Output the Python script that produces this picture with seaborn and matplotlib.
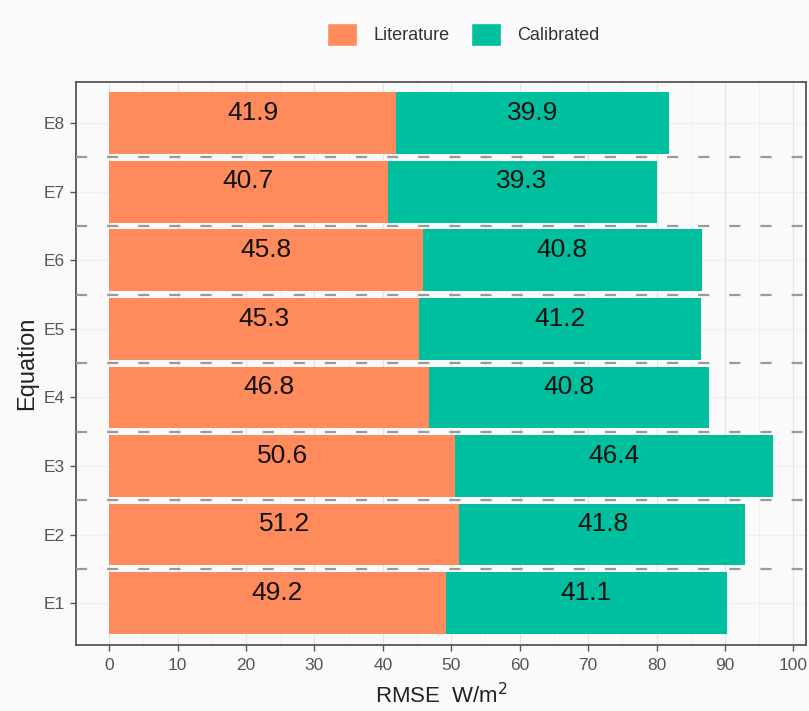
import matplotlib
matplotlib.use("Agg")
import matplotlib.pyplot as plt
from matplotlib import font_manager
from matplotlib.patches import Patch
from matplotlib.ticker import MultipleLocator
import seaborn as sns
import pandas as pd
import numpy as np

# data (top to bottom)
equations = ["E8", "E7", "E6", "E5", "E4", "E3", "E2", "E1"]
literature = [41.9, 40.7, 45.8, 45.3, 46.8, 50.6, 51.2, 49.2]
calibrated = [39.9, 39.3, 40.8, 41.2, 40.8, 46.4, 41.8, 41.1]

df = pd.DataFrame({"equation": equations,
                   "Literature": literature,
                   "Calibrated": calibrated})
df["total"] = df["Literature"] + df["Calibrated"]

col_lit = "#FF8A5B"
col_cal = "#00BF9F"
bg = "#FAFAFA"

sns.set_style("white")
plt.rcParams["font.family"] = ["Liberation Sans", "DejaVu Sans"]

# tick labels in the reference look condensed
installed = {f.name for f in font_manager.fontManager.ttflist}
if "Liberation Sans Narrow" in installed:
    tick_font, tick_size = "Liberation Sans Narrow", 14
else:
    tick_font, tick_size = "Liberation Sans", 12.5

fig = plt.figure(figsize=(8.09, 7.11), dpi=100, facecolor=bg)
ax = fig.add_axes([76 / 809, 66 / 711, 730 / 809, 563 / 711])
ax.set_facecolor(bg)

# stacked bars: total first, literature drawn over it
sns.barplot(data=df, y="equation", x="total", order=equations, color=col_cal,
            width=0.9, saturation=1, linewidth=0, ax=ax, zorder=3)
sns.barplot(data=df, y="equation", x="Literature", order=equations, color=col_lit,
            width=0.9, saturation=1, linewidth=0, ax=ax, zorder=3)

# value labels centred in each segment (sit a little above the bar middle)
for i, row in df.iterrows():
    ax.text(row["Literature"] / 2, i - 0.15, f"{row['Literature']:.1f}",
            ha="center", va="center", fontsize=19, color="#111111", zorder=5)
    ax.text(row["Literature"] + row["Calibrated"] / 2, i - 0.15, f"{row['Calibrated']:.1f}",
            ha="center", va="center", fontsize=19, color="#111111", zorder=5)

# dashed separators between equations
for y in np.arange(0.5, len(equations) - 1, 1):
    ax.axhline(y, color="#9A9A9A", lw=1.6, ls=(0, (5, 9)), zorder=4)

ax.set_xlim(-4.85, 101.85)
ax.set_ylim(len(equations) - 1 + 0.61, -0.6)
ax.xaxis.set_major_locator(MultipleLocator(10))
ax.xaxis.set_minor_locator(MultipleLocator(5))
ax.grid(which="major", axis="x", color="#E3E3E3", lw=0.9, zorder=0)
ax.grid(which="minor", axis="x", color="#EFEFEF", lw=0.6, zorder=0)
ax.grid(which="major", axis="y", color="#EFEFEF", lw=0.9, zorder=0)
ax.set_axisbelow(True)

for s in ax.spines.values():
    s.set_color("#555555")
    s.set_linewidth(1.3)

ax.tick_params(axis="both", which="major", direction="out", length=4, width=1,
               color="#555555", labelcolor="#555555", left=True, bottom=True)
ax.tick_params(axis="x", which="major", pad=5)
ax.tick_params(axis="y", which="major", pad=4)
ax.tick_params(axis="x", which="minor", length=0)
for lab in ax.get_xticklabels() + ax.get_yticklabels():
    lab.set_fontfamily(tick_font)
    lab.set_fontsize(tick_size)

ax.set_xlabel("RMSE  W/m$^2$", fontsize=16, color="#222222")
ax.set_ylabel("Equation", fontsize=17, color="#222222")
ax.xaxis.set_label_coords(0.5, -0.068)
ax.yaxis.set_label_coords(-0.052, 0.5)

handles = [Patch(facecolor=col_lit, label="Literature"),
           Patch(facecolor=col_cal, label="Calibrated")]
fig.legend(handles=handles, loc="center", bbox_to_anchor=(0.573, 0.9515), ncol=2,
           frameon=False, fontsize=13, handlelength=1.65, handleheight=1.6,
           handletextpad=0.9, columnspacing=1.2, labelcolor="#333333")

fig.savefig("out.png", dpi=100, facecolor=bg)
